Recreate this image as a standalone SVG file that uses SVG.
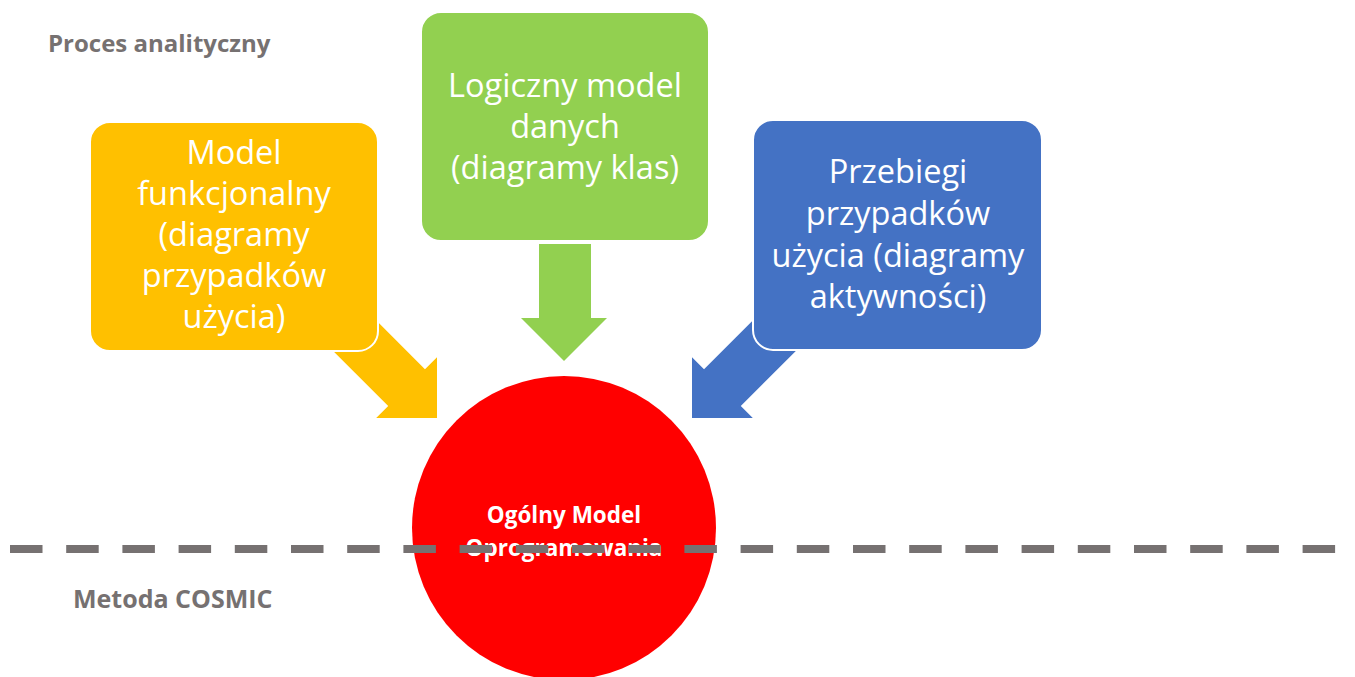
<svg xmlns="http://www.w3.org/2000/svg" width="1355" height="677" viewBox="0 0 1355 677">
  <style>
    .box { stroke: #ffffff; stroke-width: 2; }
    .boxtext { font-family: "Open Sans", "Noto Sans", sans-serif; font-size: 32.5px; fill: #ffffff; text-anchor: middle; }
    .label { font-family: "Open Sans", "Noto Sans", sans-serif; font-weight: bold; font-size: 24px; fill: #767171; }
    .core { font-family: "Open Sans", "Noto Sans", sans-serif; font-weight: bold; font-size: 22.5px; fill: #ffffff; text-anchor: middle; }
    .divider { stroke: #767171; stroke-width: 8; stroke-dasharray: 32.5 23.7; fill: none; }
  </style>
  <defs>
    <!-- block arrow pointing along +y, tip at the origin -->
    <polygon id="blockArrow" points="-26,-140 26,-140 26,-43 43,-43 0,0 -43,-43 -26,-43"/>
  </defs>
  <rect width="1355" height="677" fill="#ffffff"/>

  <!-- connectors: block arrows feeding the central model -->
  <g id="connectors">
    <use href="#blockArrow" fill="#FFC000" transform="translate(437,418) rotate(-45)"/>
    <polygon fill="#92D050" points="539,244 591,244 591,318 607,318 564,361 521,318 539,318"/>
    <use href="#blockArrow" fill="#4472C4" transform="translate(692,418) rotate(45)"/>
  </g>

  <g id="node-functional">
    <rect class="box" x="90" y="122" width="288" height="229" rx="20" fill="#FFC000"/>
    <text class="boxtext" x="234" y="164">Model</text>
    <text class="boxtext" x="234" y="205">funkcjonalny</text>
    <text class="boxtext" x="234" y="246">(diagramy</text>
    <text class="boxtext" x="234" y="287">przypadków</text>
    <text class="boxtext" x="234" y="328">użycia)</text>
  </g>

  <g id="node-data">
    <rect class="box" x="421" y="12" width="288" height="229" rx="20" fill="#92D050"/>
    <text class="boxtext" x="565" y="97">Logiczny model</text>
    <text class="boxtext" x="565" y="138">danych</text>
    <text class="boxtext" x="565" y="179">(diagramy klas)</text>
  </g>

  <g id="node-usecases">
    <rect class="box" x="753" y="120" width="289" height="230" rx="20" fill="#4472C4"/>
    <text class="boxtext" x="898" y="183">Przebiegi</text>
    <text class="boxtext" x="898" y="225">przypadków</text>
    <text class="boxtext" x="898" y="267">użycia (diagramy</text>
    <text class="boxtext" x="898" y="308">aktywności)</text>
  </g>

  <g id="node-model">
    <circle cx="564" cy="528" r="152" fill="#FF0000"/>
    <text class="core" x="564" y="523">Ogólny Model</text>
    <text class="core" x="564" y="556">Oprogramowania</text>
  </g>

  <g id="boundary">
    <line class="divider" x1="10" y1="549" x2="1336" y2="549"/>
    <text class="label" x="48" y="52">Proces analityczny</text>
    <text class="label" x="73" y="608" style="font-size:25px">Metoda COSMIC</text>
  </g>
</svg>
